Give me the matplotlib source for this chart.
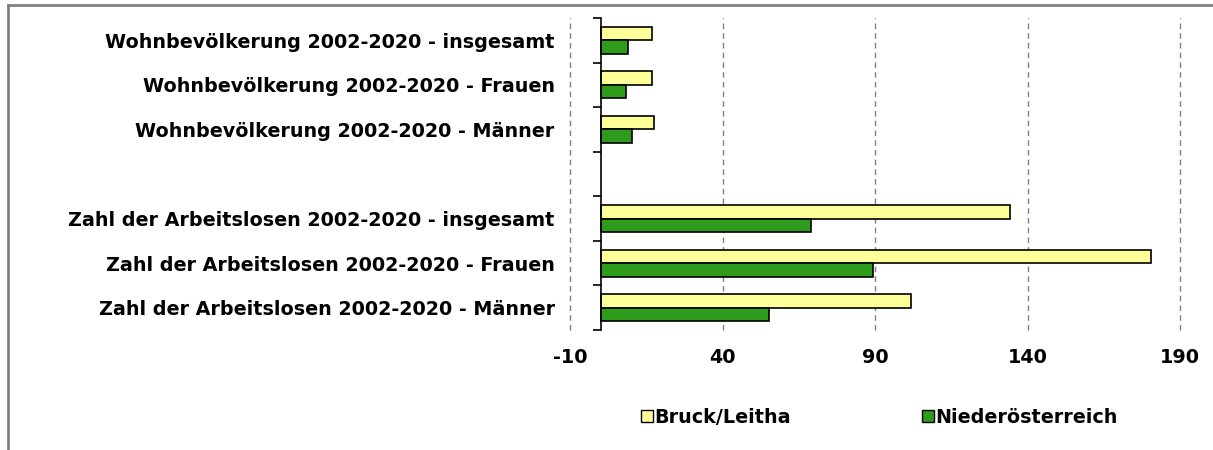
import matplotlib
matplotlib.use('Agg')
import matplotlib.pyplot as plt
import numpy as np
from matplotlib.lines import Line2D

# ---------- Data ----------
categories = [
    'Wohnbevölkerung 2002-2020 - insgesamt',
    'Wohnbevölkerung 2002-2020 - Frauen',
    'Wohnbevölkerung 2002-2020 - Männer',
    '',
    'Zahl der Arbeitslosen 2002-2020 - insgesamt',
    'Zahl der Arbeitslosen 2002-2020 - Frauen',
    'Zahl der Arbeitslosen 2002-2020 - Männer',
]
bruck = [16.9, 16.9, 17.5, np.nan, 134.3, 180.5, 101.8]
noe = [9.0, 8.4, 10.3, np.nan, 69.0, 89.3, 55.2]
series_names = ['Bruck/Leitha', 'Niederösterreich']
x_ticks = [-10, 40, 90, 140, 190]

YELLOW = '#FFFF99'
GREEN = '#2E9B1C'
FS = 13.8

plt.rcParams['font.family'] = ['DejaVu Sans']
plt.rcParams['font.weight'] = 'bold'

fig = plt.figure(figsize=(12.13, 4.5), dpi=100)
ax = fig.add_axes([570 / 1213, 0.2667, 610 / 1213, 0.6933])

pos = np.arange(len(categories))
h = 0.3
ax.barh(pos - h / 2, bruck, height=h, color=YELLOW, edgecolor='black', linewidth=1.2, zorder=3)
ax.barh(pos + h / 2, noe, height=h, color=GREEN, edgecolor='black', linewidth=1.2, zorder=3)

ax.set_xlim(-10, 190)
ax.set_ylim(len(categories) - 0.5, -0.5)
ax.set_xticks(x_ticks)
ax.set_xticklabels([str(t) for t in x_ticks], fontsize=FS, fontweight='bold')
ax.tick_params(axis='x', length=0, pad=13)

# category boundary ticks on the y axis (at x=0), labels centred in each slot
ax.spines['left'].set_position(('data', 0))
ax.spines['left'].set_linewidth(1.2)
ax.spines['left'].set_zorder(4)
ax.set_yticks(np.arange(-0.5, len(categories), 1.0))
ax.set_yticklabels([])
ax.set_yticks(pos, minor=True)
ax.set_yticklabels(categories, minor=True, fontsize=FS, fontweight='bold')
ax.tick_params(axis='y', which='major', length=6, width=1.2, direction='out')
ax.tick_params(axis='y', which='minor', length=0, pad=33)

for s in ('top', 'right', 'bottom'):
    ax.spines[s].set_visible(False)
ax.grid(axis='x', color='#808080', linestyle=(0, (4, 3)), linewidth=1.0, zorder=0)
for gl in ax.get_xgridlines():
    gl.set_clip_on(False)

# ---------- Legend ----------
handles = [
    Line2D([0], [0], marker='s', linestyle='none', markersize=8,
           markerfacecolor=YELLOW, markeredgecolor='black', markeredgewidth=1),
    Line2D([0], [0], marker='s', linestyle='none', markersize=8,
           markerfacecolor=GREEN, markeredgecolor='black', markeredgewidth=1),
]
fig.legend(handles, series_names, loc='center', bbox_to_anchor=(880 / 1213, 0.073),
           ncol=2, frameon=False, handlelength=0.5, handletextpad=0.15,
           columnspacing=6.9, prop={'size': FS, 'weight': 'bold'})

# ---------- Outer frame (top and left only) ----------
fig.add_artist(Line2D([8 / 1213, 1.0], [1 - 5 / 450, 1 - 5 / 450],
                      color='#808080', linewidth=2, transform=fig.transFigure))
fig.add_artist(Line2D([8 / 1213, 8 / 1213], [0.0, 1 - 5 / 450],
                      color='#808080', linewidth=2, transform=fig.transFigure))

fig.savefig('out.png', dpi=100)
